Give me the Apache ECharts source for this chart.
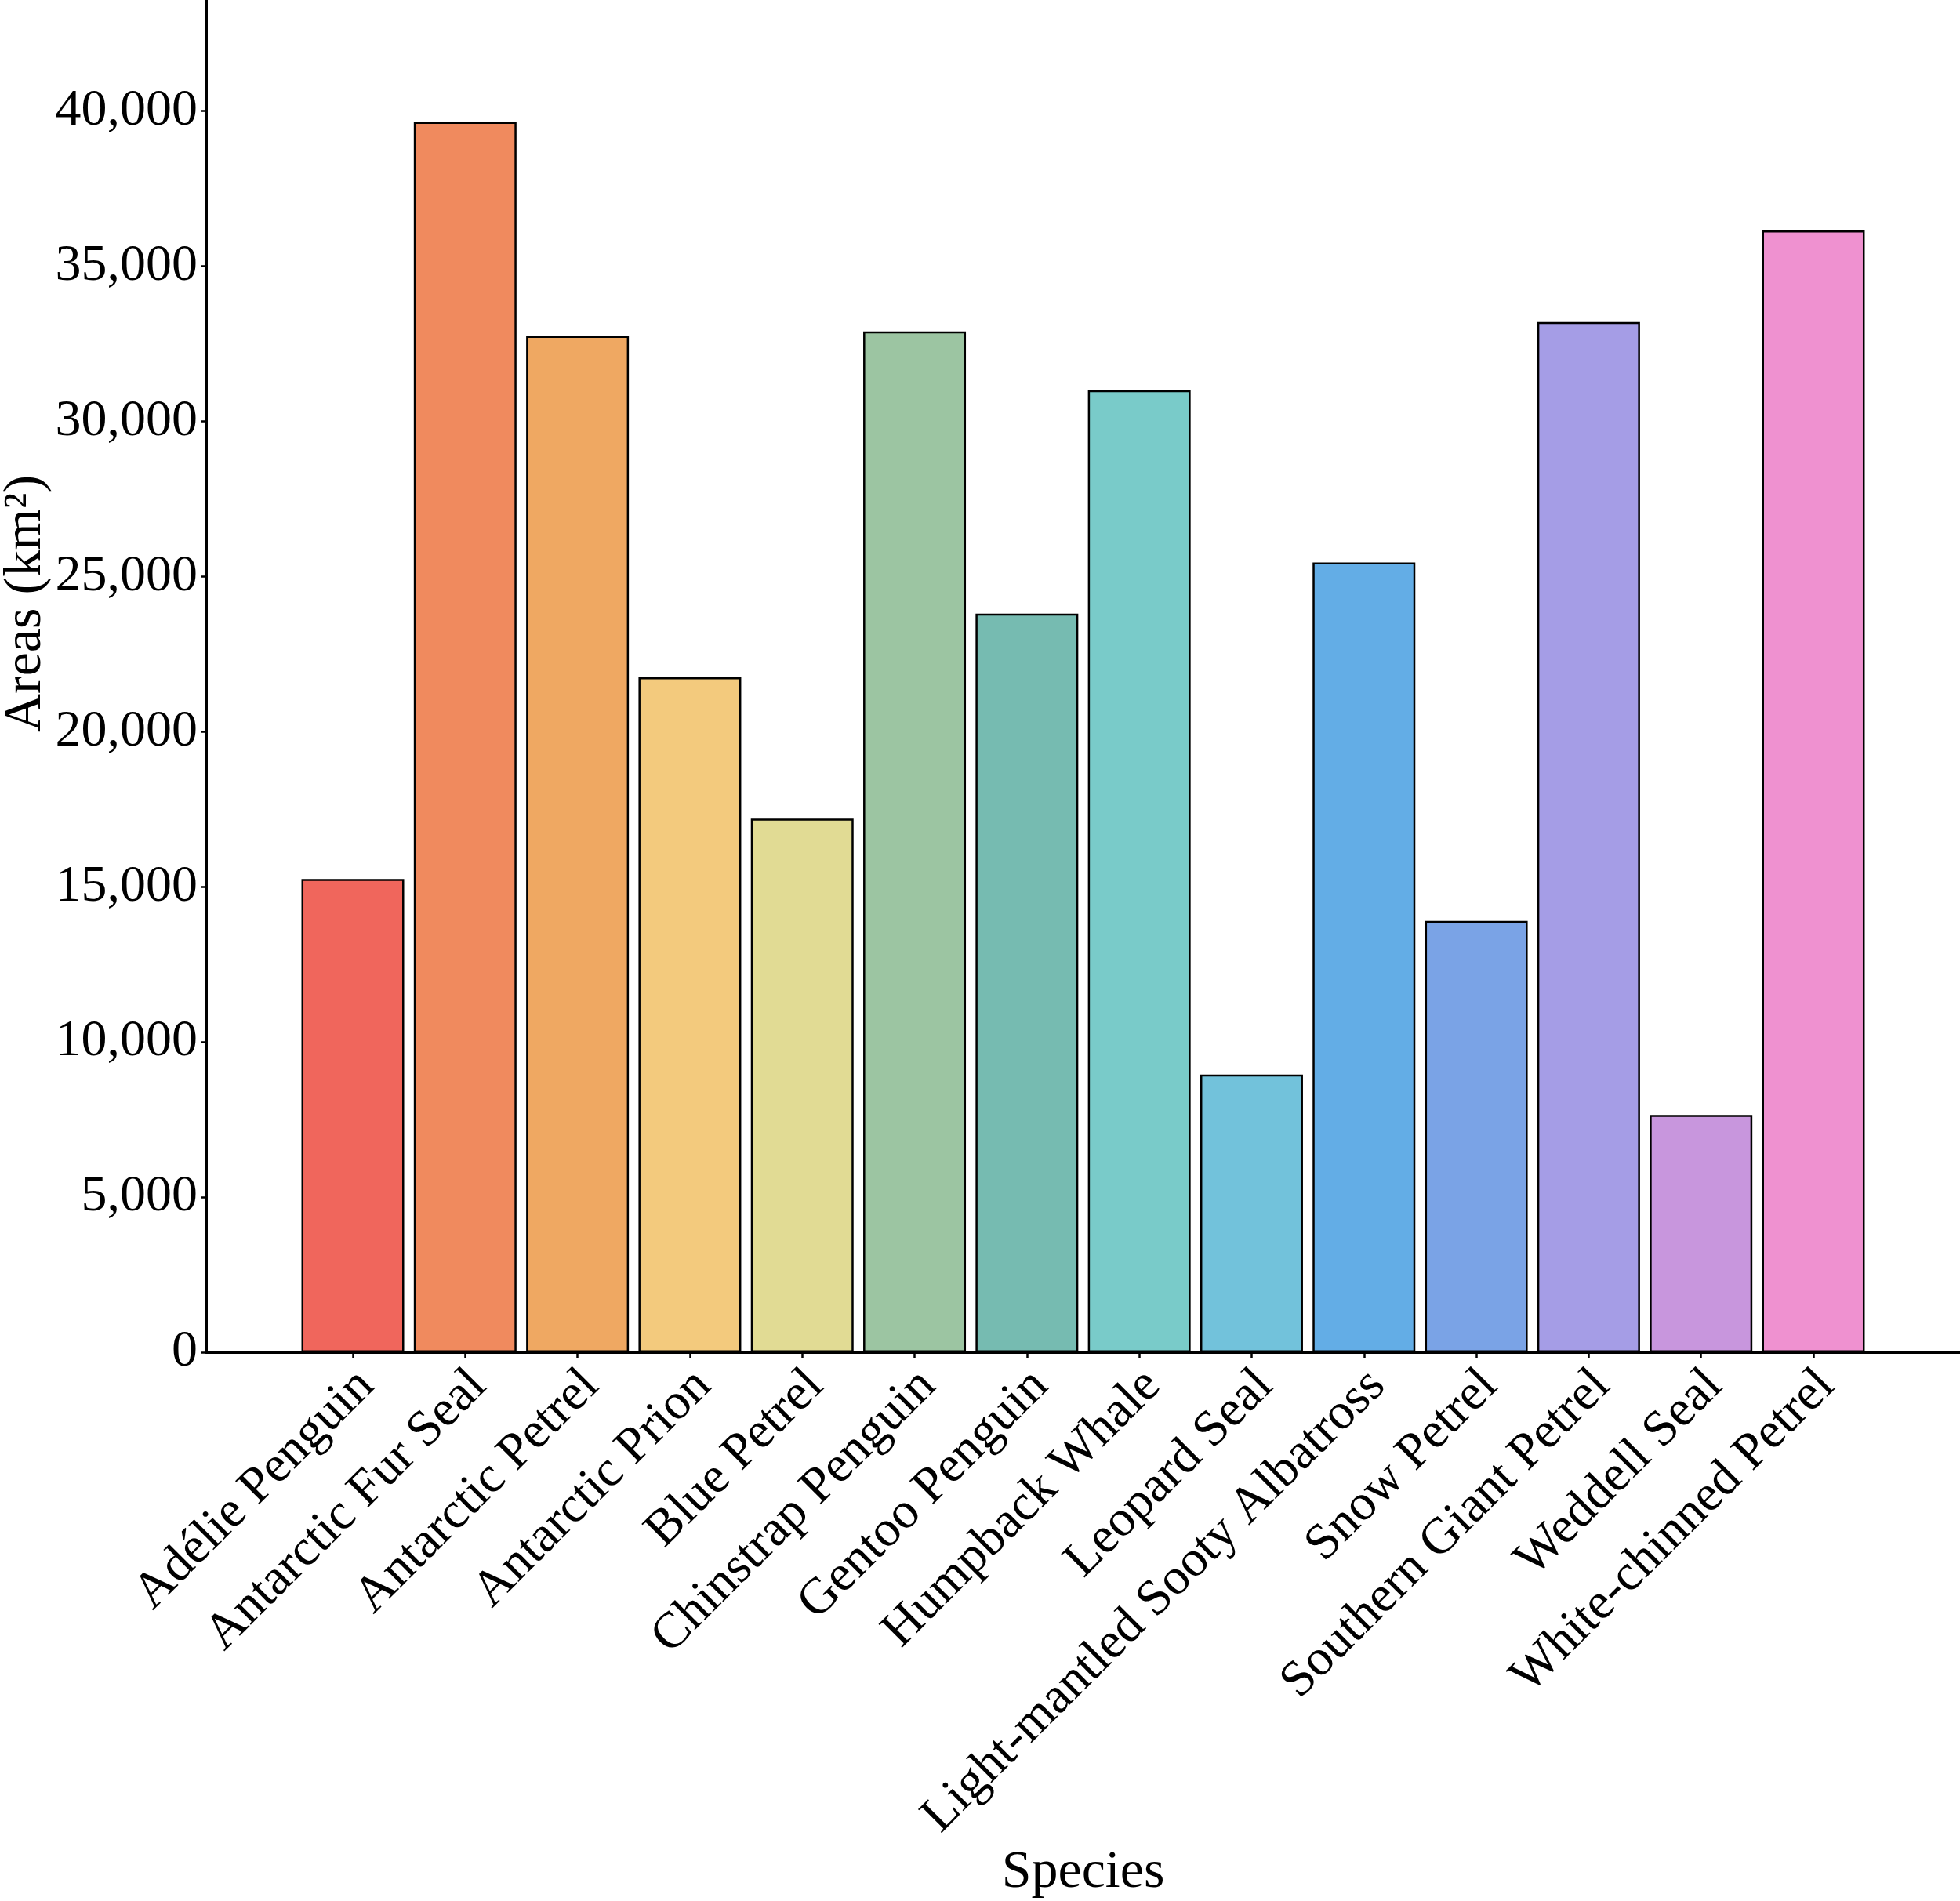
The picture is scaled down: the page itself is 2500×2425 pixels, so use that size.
<!DOCTYPE html>
<html>
<head>
<meta charset="utf-8">
<title>Areas by species</title>
<script src="https://cdn.jsdelivr.net/npm/echarts@6/dist/echarts.min.js"></script>
<style>
  html, body { margin: 0; padding: 0; background: #fff; }
  #chart { width: 2500px; height: 2425px; }
</style>
</head>
<body>
<div id="chart"></div>
<script>
// data
var species = ['Adélie Penguin', 'Antarctic Fur Seal', 'Antarctic Petrel', 'Antarctic Prion',
  'Blue Petrel', 'Chinstrap Penguin', 'Gentoo Penguin', 'Humpback Whale', 'Leopard Seal',
  'Light-mantled Sooty Albatross', 'Snow Petrel', 'Southern Giant Petrel', 'Weddell Seal',
  'White-chinned Petrel'];
var areas = [15250, 39650, 32750, 21750, 17200, 32900, 23800, 31000, 8950, 25450, 13900, 33200, 7650, 36150];
var barColors = ['#F0665C', '#F08A5E', '#EFA862', '#F3CA7D', '#E1DB94', '#9CC5A2', '#76BBB1',
  '#79CBC9', '#72C2DB', '#63ADE6', '#7AA3E6', '#A59DE6', '#C896DD', '#EF91D0'];
var yTicks = [0, 5000, 10000, 15000, 20000, 25000, 30000, 35000, 40000];

var font = 'Liberation Serif';
var xIdx = species.map(function (s, i) { return i; });

var chart = echarts.init(document.getElementById('chart'));
chart.setOption({
  animation: false,
  backgroundColor: '#fff',
  grid: { left: 263, right: 0, top: -185, bottom: 700, containLabel: false, outerBoundsMode: 'none' },
  xAxis: {
    type: 'value',
    min: -1.305,
    max: 14.305,
    name: 'Species',
    nameLocation: 'middle',
    nameGap: 630,
    nameMoveOverlap: false,
    nameTextStyle: { fontFamily: font, fontSize: 68, color: '#000' },
    axisLine: { show: true, onZero: false, lineStyle: { color: '#000', width: 3 } },
    axisTick: { show: true, length: 7, lineStyle: { color: '#000', width: 2.5 }, customValues: xIdx },
    axisLabel: {
      rotate: 45,
      margin: 33,
      fontFamily: font,
      fontSize: 65,
      color: '#000',
      // labels sit a little right of their tick, like the reference
      customValues: xIdx.map(function (i) { return i + 0.12; }),
      formatter: function (v) { return species[Math.round(v)]; }
    },
    splitLine: { show: false }
  },
  yAxis: {
    type: 'value',
    min: 0,
    max: 48250,
    name: 'Areas (km²)',
    nameLocation: 'middle',
    nameRotate: 90,
    nameGap: 196,
    nameMoveOverlap: false,
    nameTextStyle: { fontFamily: font, fontSize: 68, color: '#000' },
    axisLine: { show: true, onZero: false, lineStyle: { color: '#000', width: 3 } },
    axisTick: { show: true, length: 7, lineStyle: { color: '#000', width: 2.5 }, customValues: yTicks },
    axisLabel: {
      margin: 11,
      fontFamily: font,
      fontSize: 66,
      color: '#000',
      customValues: yTicks,
      formatter: function (v) { return v.toLocaleString('en-US'); }
    },
    splitLine: { show: false }
  },
  series: [{
    type: 'bar',
    barWidth: 131,
    data: areas.map(function (v, i) {
      return { value: [i, v], itemStyle: { color: barColors[i] } };
    }),
    itemStyle: { borderColor: '#000', borderWidth: 2.5 }
  }]
});
</script>
</body>
</html>
